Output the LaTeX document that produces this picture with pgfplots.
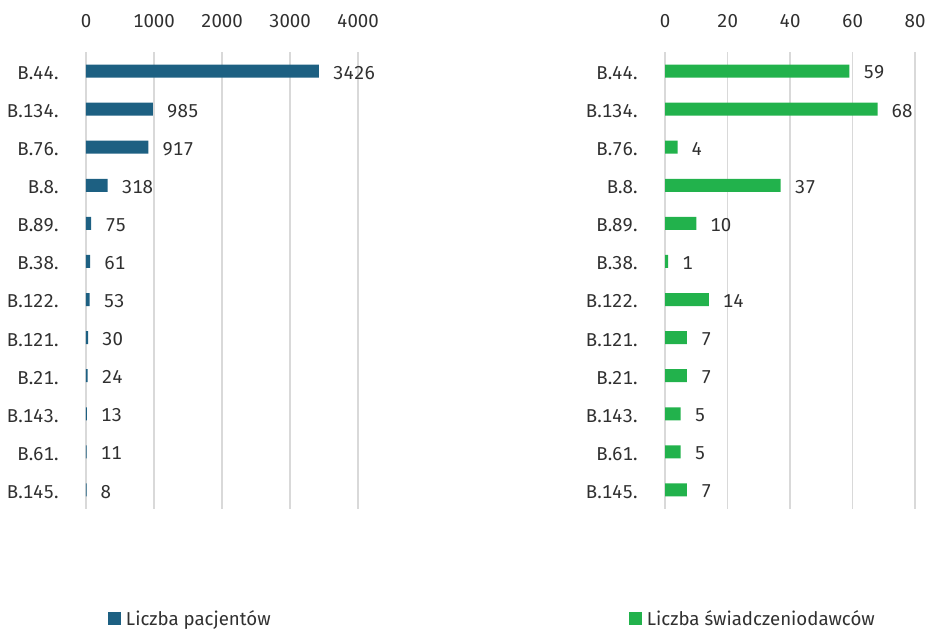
\documentclass[border=0pt]{standalone}
\usepackage{fontspec}
\setmainfont[Numbers=Monospaced]{Fira Sans}
\usepackage{pgfplots}
\pgfplotsset{compat=1.18}
\definecolor{cblue}{HTML}{1D6082}
\definecolor{cgreen}{HTML}{22B24C}
\definecolor{ctext}{HTML}{303030}
\definecolor{cgrid}{HTML}{D9D9D9}
\newcommand{\ff}{\fontsize{14}{16.8}\selectfont}
\begin{document}
\begin{tikzpicture}
\useasboundingbox (0,0) rectangle (694.5pt,-471.75pt);
\pgfplotsset{
 common/.style={
  scale only axis, xbar, bar width=9.75pt, height=342.75pt,
  ymin=-0.5, ymax=11.5, y dir=reverse, ytick={0,...,11},
  yticklabels={B.44.,B.134.,B.76.,B.8.,B.89.,B.38.,B.122.,B.121.,B.21.,B.143.,B.61.,B.145.},
  axis line style={draw=none}, major tick length=0pt,
  xmajorgrids, ymajorgrids=false, grid style={cgrid, line width=1pt},
  xticklabel pos=upper,
  /pgf/number format/assume math mode=true, /pgf/number format/1000 sep={},
  tick label style={font=\ff, text=ctext},
  xticklabel style={yshift=14.5pt},
  yticklabel style={xshift=-17pt, yshift=-1.5pt},
  nodes near coords,
  nodes near coords style={anchor=west, xshift=7.1pt, yshift=-1.2pt, font=\ff, text=ctext},
  legend style={draw=none, fill=none, font=\ff, text=ctext, inner sep=0pt,
    nodes={inner ysep=0pt}},
  legend image code/.code={\fill[##1] (0pt,-4.9pt) rectangle (9.75pt,4.9pt); \path (11.25pt,0pt);},
  anchor=north west,
 }
}
\begin{axis}[common, at={(64.5pt,-39pt)}, width=204pt, xmin=0, xmax=4000, xtick={0,1000,2000,3000,4000},
  legend style={at={(axis description cs:0.081,-0.240)}, anchor=west}]
\addplot[fill=cblue, draw=none] coordinates {(3426,0) (985,1) (917,2) (318,3) (75,4) (61,5) (53,6) (30,7) (24,8) (13,9) (11,10) (8,11)};
\addlegendentry{Liczba pacjentów}
\end{axis}
\begin{axis}[common, at={(498.75pt,-39pt)}, width=187.5pt, xmin=0, xmax=80, xtick={0,20,40,60,80},
  legend style={at={(axis description cs:-0.144,-0.240)}, anchor=west}]
\addplot[fill=cgreen, draw=none] coordinates {(59,0) (68,1) (4,2) (37,3) (10,4) (1,5) (14,6) (7,7) (7,8) (5,9) (5,10) (7,11)};
\addlegendentry{Liczba świadczeniodawców}
\end{axis}
\end{tikzpicture}
\end{document}
